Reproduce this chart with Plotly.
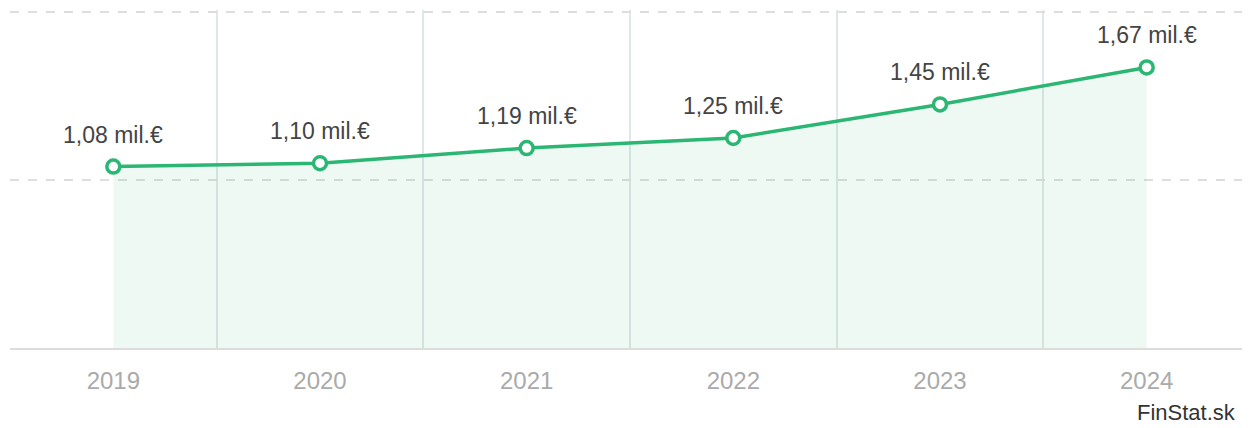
import plotly.graph_objects as go

years = ["2019", "2020", "2021", "2022", "2023", "2024"]
values = [1.08, 1.10, 1.19, 1.25, 1.45, 1.67]
labels = ["1,08 mil.€", "1,10 mil.€", "1,19 mil.€", "1,25 mil.€", "1,45 mil.€", "1,67 mil.€"]

green = "#2bb673"
font_family = "Arial, Liberation Sans, sans-serif"

fig = go.Figure()
fig.add_trace(go.Scatter(
    x=years, y=values, mode="lines+markers",
    line=dict(color=green, width=3.5),
    marker=dict(size=13, color="white", line=dict(color=green, width=3.5)),
    fill="tozeroy", fillcolor="rgba(43,182,115,0.08)",
    hoverinfo="skip", cliponaxis=False,
))

# category axis: annotations placed by category index
for i, (v, t) in enumerate(zip(values, labels)):
    fig.add_annotation(x=i, y=v, text=t, showarrow=False, yshift=32,
                       font=dict(size=23, color="#444", family=font_family))

fig.add_annotation(xref="paper", yref="paper", x=1.0, y=0, xanchor="right", yanchor="top",
                   yshift=-50, xshift=-12, text="FinStat.sk", showarrow=False,
                   font=dict(size=22, color="#333", family=font_family))

# page body has an 8px margin, so the figure is sized to fit the window
fig.update_layout(
    width=1242, height=420,
    margin=dict(l=2, r=0, t=2, b=80, autoexpand=False),
    plot_bgcolor="white", paper_bgcolor="white",
    showlegend=False,
)
fig.update_xaxes(
    type="category", range=[-0.5, 5.5], tickson="boundaries",
    showgrid=True, gridcolor="#dfe8e8", gridwidth=1.5,
    showline=True, linecolor="#dcdcdc", linewidth=2,
    ticks="", tickfont=dict(size=24, color="#aaaaaa", family=font_family),
    ticklabelstandoff=10, fixedrange=True, automargin=False,
)
fig.update_yaxes(
    range=[0, 2.012], tickvals=[1, 2], showticklabels=False,
    showgrid=True, gridcolor="#dedede", gridwidth=2, griddash="dash",
    zeroline=False, fixedrange=True, automargin=False,
)

fig.write_html("out.html")
